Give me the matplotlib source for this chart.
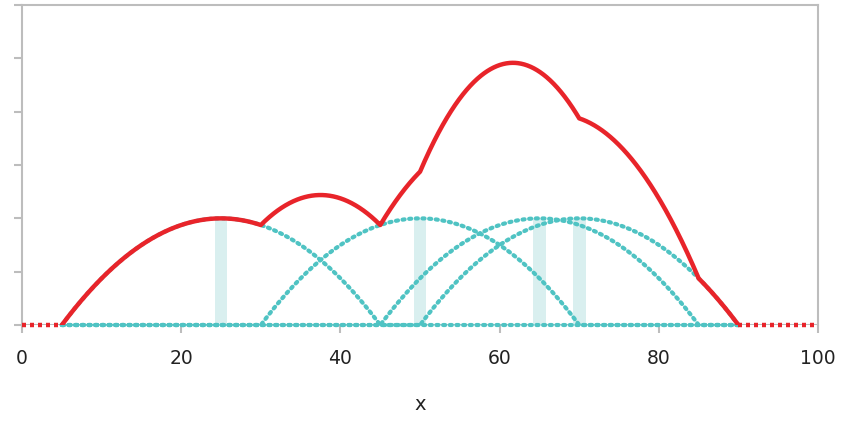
import numpy as np
import matplotlib
matplotlib.use('Agg')
import matplotlib.pyplot as plt

# data points and kernel (Epanechnikov-like parabolic bumps)
points = [25, 50, 65, 70]
bandwidth = 20
bump_height = 2
support = (5, 90)
xticks = [0, 20, 40, 60, 80, 100]
yticks = [0, 1, 2, 3, 4, 5, 6]

RED = '#e8242a'
TEAL = '#4fc3c3'
BAND = '#d9efef'
GRID = '#bdbdbd'


def kernel(x, c):
    u = (x - c) / bandwidth
    return np.where(np.abs(u) <= 1, bump_height * (1 - u ** 2), 0.0)


fig = plt.figure(figsize=(8.41, 4.21), dpi=100)
ax = fig.add_axes([0.0262, 0.228, 0.9465, 0.760])

x = np.linspace(support[0], support[1], 1701)

# light bands at each data point
for c in points:
    ax.bar(c, bump_height, width=1.6, color=BAND, zorder=1)

# individual kernels, dotted
for c in points:
    ax.plot(x, kernel(x, c), color=TEAL, lw=3.0, ls=(0, (0.5, 1.1)),
            dash_capstyle='round', zorder=2, clip_on=False)

# sum
total = sum(kernel(x, c) for c in points)
ax.plot(x, total, color=RED, lw=3.2, solid_capstyle='round', zorder=4)
ax.plot([0, support[0]], [0, 0], color=RED, lw=3.2, ls=(0, (0.9, 0.9)),
        zorder=3, clip_on=False)
ax.plot([support[1], 100], [0, 0], color=RED, lw=3.2, ls=(0, (0.9, 0.9)),
        zorder=3, clip_on=False)

ax.set_xlim(0, 100)
ax.set_ylim(0, 6)
ax.set_xticks(xticks)
ax.set_yticks(yticks)
ax.set_yticklabels([])
ax.tick_params(axis='both', color=GRID, width=1.5, length=6, labelsize=13.5,
               labelcolor='#222222')
ax.tick_params(axis='x', pad=11)
for s in ['left', 'bottom', 'top', 'right']:
    ax.spines[s].set_color(GRID)
    ax.spines[s].set_linewidth(1.5)
ax.spines['bottom'].set_visible(False)
ax.axhline(0, color=GRID, lw=1.5, zorder=0)
ax.set_xlabel('x', fontsize=14, labelpad=20, color='#222222')

fig.savefig('out.png', dpi=100)
